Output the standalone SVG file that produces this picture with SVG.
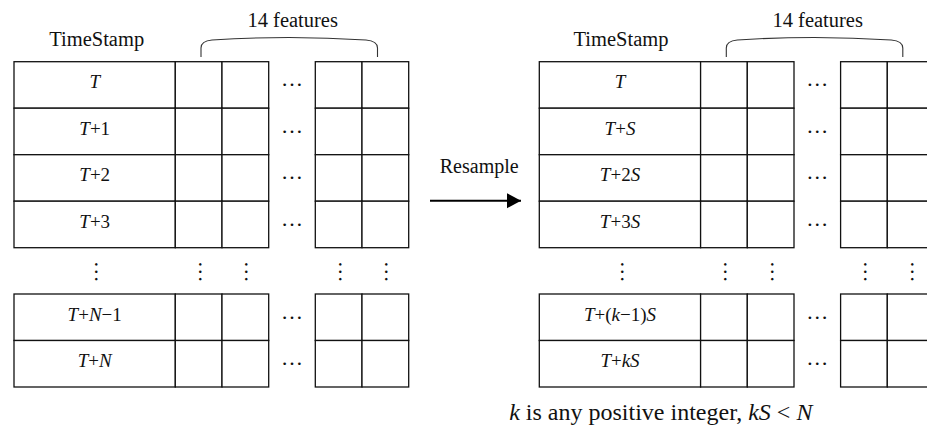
<svg xmlns="http://www.w3.org/2000/svg" xmlns:xlink="http://www.w3.org/1999/xlink" width="927" height="435" viewBox="0 0 927 435">
  <style>
    text { font-family: "Liberation Serif", "Times New Roman", serif; fill: #111; }
    .head { font-size: 20.5px; text-anchor: middle; }
    .cell { font-size: 19px; text-anchor: middle; }
    .dots { font-size: 22px; text-anchor: middle; }
    .note { font-size: 24px; text-anchor: middle; }
    .i { font-style: italic; }
    .grid rect { fill: #fff; stroke: #111; stroke-width: 1.3; }
    .brace { fill: none; stroke: #333; stroke-width: 1.1; }
    .conn { stroke: #000; stroke-width: 2; fill: none; }
  </style>
  <defs>
    <!-- one table row: timestamp cell, two feature cells, gap, two feature cells -->
    <g id="row" class="grid">
      <rect x="0" y="0" width="161.3" height="46.5"/>
      <rect x="161.3" y="0" width="46.7" height="46.5"/>
      <rect x="208" y="0" width="46.7" height="46.5"/>
      <rect x="301.3" y="0" width="46.7" height="46.5"/>
      <rect x="348" y="0" width="46.7" height="46.5"/>
      <text class="dots" x="278" y="24.5">…</text>
    </g>
    <!-- column of vertical ellipses between the upper and lower blocks -->
    <g id="vdots">
      <text class="dots" x="82.7" y="273" transform="rotate(90 82.7 271.7)">…</text>
      <text class="dots" x="186" y="273" transform="rotate(90 186 271.7)">…</text>
      <text class="dots" x="232.7" y="273" transform="rotate(90 232.7 271.7)">…</text>
      <text class="dots" x="326" y="273" transform="rotate(90 326 271.7)">…</text>
      <text class="dots" x="372.7" y="273" transform="rotate(90 372.7 271.7)">…</text>
    </g>
    <path id="brace" class="brace" d="M201,57 V48 Q201,41 212,40 Q289,35 366,40 Q377.5,41 377.5,48 V57"/>
    <marker id="arrowhead" markerUnits="userSpaceOnUse" markerWidth="16" markerHeight="16" refX="14" refY="7.5" orient="auto">
      <path d="M0,0 L14,7.5 L0,15 Z" fill="#000"/>
    </marker>
  </defs>

  <!-- original series -->
  <g id="table-original">
    <text class="head" x="96.7" y="46">TimeStamp</text>
    <use xlink:href="#brace"/>
    <text class="head" x="292.7" y="26.7">14 features</text>
    <use xlink:href="#row" x="14" y="61.7"/>
    <use xlink:href="#row" x="14" y="108.2"/>
    <use xlink:href="#row" x="14" y="154.7"/>
    <use xlink:href="#row" x="14" y="201.2"/>
    <use xlink:href="#vdots" x="14"/>
    <use xlink:href="#row" x="14" y="294"/>
    <use xlink:href="#row" x="14" y="340.5"/>
    <text class="cell" x="94.7" y="88.3"><tspan class="i">T</tspan></text>
    <text class="cell" x="94.7" y="134.8"><tspan class="i">T</tspan>+1</text>
    <text class="cell" x="94.7" y="181.3"><tspan class="i">T</tspan>+2</text>
    <text class="cell" x="94.7" y="227.8"><tspan class="i">T</tspan>+3</text>
    <text class="cell" x="94.7" y="320.6"><tspan class="i">T</tspan>+<tspan class="i">N</tspan>−1</text>
    <text class="cell" x="94.7" y="367.1"><tspan class="i">T</tspan>+<tspan class="i">N</tspan></text>
  </g>

  <!-- resampled series -->
  <g id="table-resampled">
    <text class="head" x="621" y="46">TimeStamp</text>
    <use xlink:href="#brace" x="525.3"/>
    <text class="head" x="817.7" y="26.7">14 features</text>
    <use xlink:href="#row" x="539.3" y="61.7"/>
    <use xlink:href="#row" x="539.3" y="108.2"/>
    <use xlink:href="#row" x="539.3" y="154.7"/>
    <use xlink:href="#row" x="539.3" y="201.2"/>
    <use xlink:href="#vdots" x="539.3"/>
    <use xlink:href="#row" x="539.3" y="294"/>
    <use xlink:href="#row" x="539.3" y="340.5"/>
    <text class="cell" x="620" y="88.3"><tspan class="i">T</tspan></text>
    <text class="cell" x="620" y="134.8"><tspan class="i">T</tspan>+<tspan class="i">S</tspan></text>
    <text class="cell" x="620" y="181.3"><tspan class="i">T</tspan>+2<tspan class="i">S</tspan></text>
    <text class="cell" x="620" y="227.8"><tspan class="i">T</tspan>+3<tspan class="i">S</tspan></text>
    <text class="cell" x="620" y="320.6"><tspan class="i">T</tspan>+(<tspan class="i">k</tspan>−1)<tspan class="i">S</tspan></text>
    <text class="cell" x="620" y="367.1"><tspan class="i">T</tspan>+<tspan class="i">kS</tspan></text>
    <text class="note" x="660.8" y="420"><tspan class="i">k</tspan> is any positive integer, <tspan class="i">kS</tspan> &lt; <tspan class="i">N</tspan></text>
  </g>

  <!-- connector -->
  <g id="connectors">
    <text class="head" x="479.2" y="172.7" style="font-size:20px">Resample</text>
    <line class="conn" x1="430" y1="200.7" x2="521" y2="200.7" marker-end="url(#arrowhead)"/>
  </g>
</svg>
